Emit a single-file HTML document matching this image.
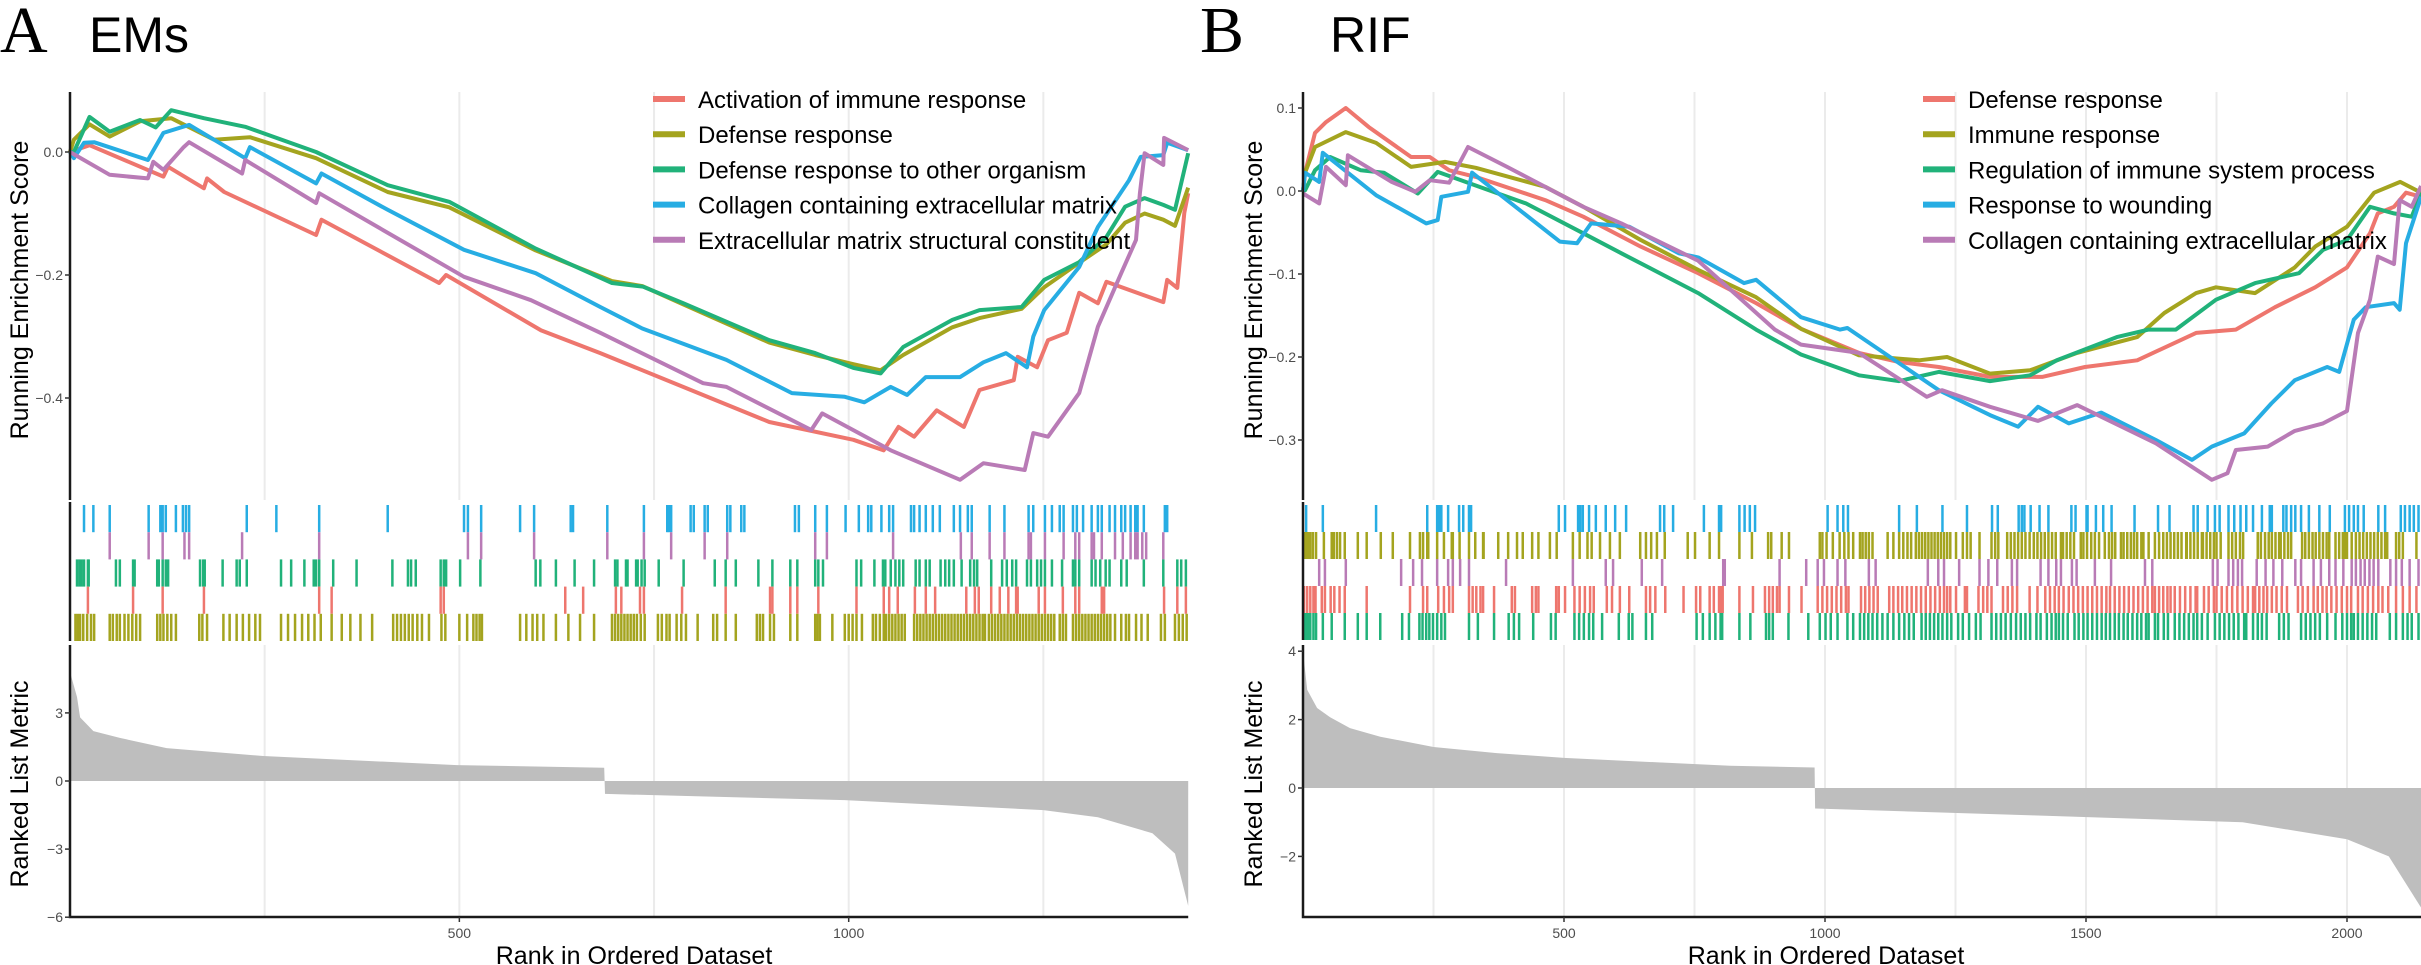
<!DOCTYPE html>
<html><head><meta charset="utf-8">
<style>
html,body{margin:0;padding:0;background:#fff;}
svg{display:block;font-family:"Liberation Sans",Arial,sans-serif;}
</style></head>
<body>
<svg id="fig" xmlns="http://www.w3.org/2000/svg" width="2421" height="965" viewBox="0 0 2421 965">
<text x="0" y="52" font-family="Liberation Serif,serif" font-size="66" fill="#000">A</text>
<text x="89" y="52" font-size="50" fill="#000">EMs</text>
<text x="1200" y="52" font-family="Liberation Serif,serif" font-size="66" fill="#000">B</text>
<text x="1330" y="52" font-size="50" fill="#000">RIF</text>
</svg>
<script>
// ---------- Panel A data (EMs) ----------
const A_names = ["Activation of immune response","Defense response","Defense response to other organism","Collagen containing extracellular matrix","Extracellular matrix structural constituent"];
const A_colors = ["#EE766E","#A4A41F","#21B27A","#27ADE3","#B97BB6"];
const A_s0_rank = [0,25,120,126,172,176,198,316,323,474,483,605,681,898,1006,1045,1064,1084,1113,1148,1168,1212,1217,1242,1256,1280,1296,1320,1331,1404,1409,1422,1425,1431,1436];
const A_s0_es = [0,0.011,-0.04,-0.024,-0.059,-0.043,-0.065,-0.135,-0.11,-0.213,-0.2,-0.29,-0.327,-0.439,-0.468,-0.485,-0.447,-0.463,-0.42,-0.447,-0.387,-0.371,-0.333,-0.35,-0.306,-0.294,-0.229,-0.246,-0.211,-0.244,-0.208,-0.221,-0.18,-0.099,-0.067];
const A_s1_rank = [0,5,25,51,90,130,185,231,316,408,487,598,696,735,788,898,957,1006,1041,1070,1133,1168,1222,1251,1296,1331,1355,1380,1404,1419,1436];
const A_s1_es = [0,0.02,0.045,0.025,0.05,0.055,0.02,0.024,-0.01,-0.065,-0.09,-0.16,-0.21,-0.218,-0.248,-0.31,-0.33,-0.345,-0.355,-0.33,-0.285,-0.27,-0.255,-0.22,-0.18,-0.15,-0.115,-0.1,-0.11,-0.12,-0.058];
const A_s2_rank = [0,5,25,51,90,110,130,172,225,316,408,487,598,696,736,788,898,957,1006,1041,1070,1133,1168,1222,1251,1296,1331,1355,1380,1404,1419,1436];
const A_s2_es = [0,0,0.057,0.033,0.052,0.04,0.068,0.055,0.041,0,-0.054,-0.081,-0.157,-0.213,-0.219,-0.246,-0.306,-0.327,-0.351,-0.36,-0.317,-0.273,-0.257,-0.252,-0.208,-0.179,-0.138,-0.089,-0.075,-0.086,-0.094,-0.002];
const A_s3_rank = [0,5,18,31,100,120,153,225,231,316,323,408,506,598,681,735,843,927,995,1020,1054,1075,1099,1143,1173,1202,1229,1237,1251,1296,1320,1360,1375,1404,1409,1436];
const A_s3_es = [0,-0.01,0.015,0.016,-0.013,0.031,0.044,-0.01,0.008,-0.051,-0.035,-0.094,-0.159,-0.197,-0.252,-0.287,-0.338,-0.392,-0.398,-0.407,-0.382,-0.395,-0.366,-0.366,-0.342,-0.327,-0.35,-0.3,-0.257,-0.187,-0.122,-0.046,-0.008,-0.005,0.015,0.003];
const A_s4_rank = [0,51,100,107,120,146,153,221,225,316,320,506,592,681,813,843,952,966,1054,1143,1173,1226,1237,1256,1296,1320,1350,1369,1374,1380,1404,1405,1436];
const A_s4_es = [0,-0.037,-0.043,-0.016,-0.029,0.008,0.016,-0.035,-0.013,-0.083,-0.067,-0.203,-0.241,-0.294,-0.376,-0.382,-0.452,-0.425,-0.485,-0.533,-0.506,-0.517,-0.457,-0.463,-0.392,-0.284,-0.197,-0.143,-0.067,-0.002,-0.021,0.023,0.003];
// hit rows (top to bottom): blue, purple, green, red, olive
const A_hits_blue = [18,30,51,101,116,119,123,136,145,149,153,227,265,320,408,506,511,528,578,596,643,646,690,737,767,769,772,797,801,815,819,844,848,862,866,931,936,957,972,996,1013,1025,1029,1042,1052,1057,1080,1084,1091,1099,1108,1117,1135,1143,1153,1158,1181,1200,1231,1237,1252,1261,1271,1276,1288,1293,1301,1312,1320,1325,1335,1342,1350,1355,1362,1368,1371,1379,1406,1409];
const A_hits_purple = [51,101,119,147,153,221,320,511,528,596,690,737,772,815,844,957,972,1057,1144,1158,1181,1200,1231,1234,1252,1276,1291,1296,1312,1315,1325,1342,1352,1362,1368,1371,1377,1382,1404];
const A_hits_green = [9,12,15,18,23,24,59,64,81,83,112,114,119,123,126,167,171,173,196,214,218,227,271,284,301,313,316,320,338,368,414,434,438,444,476,480,483,501,527,598,604,624,648,673,700,703,714,716,727,729,734,738,756,788,828,842,855,884,902,925,934,957,961,967,1010,1016,1033,1044,1047,1054,1060,1065,1070,1086,1091,1099,1104,1118,1124,1129,1135,1145,1156,1161,1165,1183,1197,1203,1210,1215,1229,1234,1242,1247,1252,1261,1274,1288,1291,1296,1312,1317,1323,1330,1335,1350,1357,1379,1404,1422,1427,1433];
const A_hits_red = [23,81,119,172,320,336,476,480,636,659,701,708,732,737,786,842,899,902,925,934,961,1010,1045,1052,1063,1085,1099,1111,1151,1162,1167,1183,1194,1205,1215,1217,1244,1252,1275,1291,1296,1325,1328,1405,1422,1433];
const A_hits_olive = [7,10,13,17,22,27,31,51,55,60,64,70,75,80,85,90,112,116,120,125,130,136,166,170,176,197,205,214,222,230,238,244,271,280,289,298,306,314,322,336,349,360,373,388,415,420,425,430,435,440,446,452,461,477,482,500,510,518,522,526,529,578,586,594,600,608,624,640,655,673,696,700,704,708,712,716,720,724,728,733,738,755,760,766,770,779,785,791,806,826,831,842,855,882,886,890,899,904,925,934,957,960,963,979,995,1000,1005,1010,1017,1031,1035,1040,1045,1048,1052,1056,1060,1064,1068,1072,1084,1088,1092,1096,1100,1104,1108,1112,1116,1120,1124,1128,1132,1136,1140,1144,1148,1152,1156,1160,1164,1168,1172,1175,1180,1184,1188,1192,1196,1200,1204,1208,1212,1216,1220,1224,1228,1232,1236,1240,1244,1248,1252,1256,1260,1264,1271,1275,1279,1288,1292,1296,1300,1304,1308,1312,1316,1320,1324,1328,1332,1336,1342,1350,1356,1360,1369,1376,1384,1401,1406,1419,1424,1429,1434];
const A_metric_rank = [0,9,13,30,64,124,248,497,686,687,995,1250,1320,1390,1419,1436];
const A_metric_val = [4.8,3.7,2.8,2.2,1.9,1.45,1.1,0.7,0.58,-0.57,-0.84,-1.28,-1.6,-2.3,-3.2,-5.5];
const A_es_ticks = [0,-0.2,-0.4];
const A_es_labels = ["0.0","-0.2","-0.4"];
const A_metric_ticks = [3,0,-3,-6];
const A_x_ticks = [500,1000];

// ---------- Panel B data (RIF) ----------
const B_names = ["Defense response","Immune response","Regulation of immune system process","Response to wounding","Collagen containing extracellular matrix"];
const B_colors = ["#EE766E","#A4A41F","#21B27A","#27ADE3","#B97BB6"];
const B_s0_rank = [0,4,23,44,82,126,207,243,280,331,464,537,647,757,868,954,1065,1142,1218,1316,1416,1498,1598,1711,1787,1862,1939,2000,2044,2059,2090,2113,2142];
const B_s0_es = [0,0.022,0.07,0.083,0.1,0.077,0.041,0.041,0.025,0.017,-0.011,-0.031,-0.067,-0.099,-0.135,-0.166,-0.195,-0.206,-0.212,-0.224,-0.224,-0.212,-0.204,-0.171,-0.167,-0.14,-0.116,-0.092,-0.051,-0.027,-0.019,-0.002,-0.007];
const B_s1_rank = [0,4,23,82,140,207,272,331,464,537,647,757,868,954,1065,1180,1234,1316,1393,1483,1598,1650,1711,1749,1824,1900,1939,2000,2052,2102,2142];
const B_s1_es = [0,0.022,0.053,0.071,0.058,0.029,0.035,0.028,0.005,-0.019,-0.059,-0.095,-0.128,-0.166,-0.198,-0.204,-0.2,-0.22,-0.216,-0.195,-0.176,-0.147,-0.123,-0.116,-0.123,-0.092,-0.067,-0.043,-0.002,0.011,-0.002];
const B_s2_rank = [0,4,23,52,111,155,220,258,316,427,537,610,757,868,954,1065,1142,1218,1316,1393,1444,1559,1620,1672,1749,1824,1908,1954,2000,2044,2090,2124,2142];
const B_s2_es = [0,0.001,0.025,0.041,0.025,0.022,-0.003,0.023,0.01,-0.015,-0.051,-0.075,-0.123,-0.167,-0.197,-0.222,-0.229,-0.218,-0.229,-0.222,-0.204,-0.176,-0.167,-0.167,-0.131,-0.111,-0.099,-0.071,-0.059,-0.019,-0.027,-0.031,-0.002];
const B_s3_rank = [0,4,31,38,140,236,258,265,316,324,492,525,552,625,720,757,845,868,954,1029,1043,1218,1316,1370,1408,1467,1529,1634,1703,1741,1803,1855,1900,1962,1985,2013,2036,2090,2101,2113,2142];
const B_s3_es = [0,0.022,0.011,0.046,-0.005,-0.039,-0.035,-0.007,-0.001,0.022,-0.061,-0.063,-0.039,-0.043,-0.075,-0.08,-0.111,-0.107,-0.152,-0.167,-0.165,-0.24,-0.27,-0.284,-0.26,-0.28,-0.267,-0.3,-0.324,-0.308,-0.292,-0.256,-0.228,-0.212,-0.218,-0.155,-0.14,-0.135,-0.143,-0.063,-0.007];
const B_s4_rank = [0,31,44,82,86,170,215,243,280,316,391,537,610,757,904,954,1065,1195,1224,1316,1408,1483,1634,1741,1771,1787,1848,1900,1954,2000,2021,2044,2059,2090,2101,2124,2142];
const B_s4_es = [-0.003,-0.015,0.029,0.007,0.043,0.011,-0.001,0.013,0.01,0.053,0.029,-0.019,-0.039,-0.084,-0.167,-0.185,-0.195,-0.248,-0.24,-0.26,-0.277,-0.258,-0.304,-0.348,-0.34,-0.312,-0.308,-0.289,-0.28,-0.265,-0.171,-0.131,-0.079,-0.088,-0.011,-0.019,0.006];
// hit rows (top to bottom): blue, olive, purple, red, green
const B_hits_blue = [6,38,140,238,257,261,265,278,299,307,318,322,490,502,527,531,536,548,561,580,598,619,684,692,709,768,797,801,836,846,856,866,1005,1024,1035,1044,1142,1176,1225,1272,1320,1331,1371,1377,1382,1394,1411,1428,1472,1480,1501,1503,1519,1533,1549,1593,1638,1660,1706,1714,1733,1747,1756,1773,1784,1796,1807,1820,1837,1852,1856,1878,1884,1893,1901,1912,1927,1947,1967,1996,2004,2013,2021,2032,2060,2073,2103,2111,2120,2128,2137];
const B_hits_olive = [2,6,10,14,19,25,40,55,59,65,71,80,105,122,149,172,205,224,230,238,240,257,270,285,287,300,318,330,345,346,374,393,410,421,439,451,473,486,517,530,545,553,569,588,607,646,657,667,678,693,737,751,779,797,836,860,891,897,917,931,990,995,1003,1015,1028,1037,1045,1054,1067,1072,1078,1084,1091,1120,1131,1142,1150,1158,1165,1174,1180,1186,1192,1198,1204,1210,1216,1222,1228,1234,1240,1251,1264,1272,1279,1296,1319,1326,1332,1349,1356,1363,1370,1377,1384,1392,1400,1407,1414,1421,1428,1435,1442,1452,1456,1463,1470,1477,1490,1495,1502,1510,1517,1525,1536,1544,1550,1556,1567,1572,1579,1586,1592,1598,1606,1610,1620,1632,1640,1648,1655,1662,1669,1676,1683,1692,1693,1700,1707,1714,1722,1724,1731,1738,1745,1750,1758,1773,1780,1787,1795,1801,1829,1835,1843,1850,1856,1863,1870,1873,1880,1887,1893,1914,1920,1927,1934,1940,1947,1954,1961,1966,1978,1985,1992,1996,2000,2009,2017,2024,2031,2038,2045,2052,2059,2066,2073,2077,2094,2100,2107,2133];
const B_hits_purple = [31,42,82,188,211,228,257,278,287,301,318,389,517,580,594,649,688,805,808,913,964,986,998,1024,1039,1084,1097,1197,1217,1228,1257,1296,1313,1330,1358,1368,1413,1428,1443,1452,1473,1482,1517,1548,1613,1627,1743,1752,1773,1782,1791,1799,1827,1844,1859,1876,1901,1912,1936,1950,1966,1978,1993,2009,2017,2026,2034,2043,2051,2060,2083,2094,2105,2120,2137];
const B_hits_red = [2,8,14,20,24,36,42,53,60,70,80,122,205,230,238,259,270,280,287,318,325,332,340,345,366,400,406,439,446,451,485,490,502,520,530,540,550,557,582,592,607,625,657,665,675,694,729,753,761,779,787,797,800,804,836,862,885,893,900,908,913,931,955,986,995,1004,1013,1022,1031,1040,1045,1069,1077,1085,1093,1101,1123,1131,1140,1148,1157,1166,1175,1184,1193,1202,1211,1220,1228,1234,1240,1251,1268,1272,1294,1303,1311,1319,1341,1350,1359,1368,1392,1407,1422,1431,1440,1448,1457,1467,1476,1485,1494,1503,1512,1521,1530,1539,1546,1555,1564,1573,1582,1591,1600,1609,1618,1627,1632,1640,1648,1656,1662,1670,1680,1690,1700,1710,1713,1726,1735,1745,1750,1760,1770,1780,1790,1800,1810,1820,1824,1832,1840,1847,1856,1865,1875,1885,1906,1915,1925,1936,1944,1953,1961,1970,1980,1990,2000,2008,2021,2030,2040,2050,2060,2068,2079,2094,2107,2120,2133];
const B_hits_green = [2,6,10,14,20,25,38,55,80,105,122,148,190,203,223,229,236,242,249,257,265,272,318,335,366,394,404,414,441,475,484,520,529,538,548,556,573,605,624,631,657,669,754,766,779,790,800,803,836,857,887,893,900,930,968,990,1001,1011,1024,1043,1054,1067,1075,1083,1091,1100,1110,1120,1131,1142,1152,1161,1170,1185,1193,1201,1209,1217,1225,1234,1242,1255,1264,1276,1289,1298,1319,1328,1337,1346,1356,1366,1375,1384,1393,1405,1413,1425,1434,1442,1448,1456,1465,1478,1486,1495,1503,1512,1521,1530,1538,1546,1555,1563,1572,1580,1589,1598,1606,1615,1620,1632,1638,1649,1657,1670,1679,1688,1697,1706,1713,1722,1733,1747,1756,1765,1774,1783,1792,1803,1807,1820,1829,1837,1846,1870,1879,1888,1912,1921,1930,1939,1948,1962,1978,1991,2000,2008,2013,2021,2030,2039,2048,2056,2082,2094,2107,2116,2124,2137];
const B_metric_rank = [0,8,27,52,90,148,250,371,500,818,980,981,1400,1800,2000,2080,2142];
const B_metric_val = [4.0,2.87,2.34,2.07,1.75,1.5,1.2,1.02,0.88,0.65,0.6,-0.6,-0.8,-1.0,-1.5,-2.0,-3.5];
const B_es_ticks = [0.1,0,-0.1,-0.2,-0.3];
const B_es_labels = ["0.1","0.0","-0.1","-0.2","-0.3"];
const B_metric_ticks = [4,2,0,-2];
const B_x_ticks = [500,1000,1500,2000];

const NS = "http://www.w3.org/2000/svg";
const svg = document.getElementById("fig");
function mk(tag, attrs, parent){
  const e = document.createElementNS(NS, tag);
  for (const k in attrs) e.setAttribute(k, attrs[k]);
  (parent||svg).appendChild(e);
  return e;
}

function drawPanel(p){
  const g = mk("g", {});
  
  
  const xs = r => p.x0 + r * p.pxr;
  const ys = s => p.esZero - s * p.esScale;
  const ym = v => p.mZero - v * p.mScale;
  const x1 = xs(p.maxRank);
  // gridlines
  for (let r = 250; r < p.maxRank; r += 250){
    const gl = mk("line", {x1:xs(r), x2:xs(r), y1:p.esTop, y2:p.esBot, stroke:"#ebebeb", "stroke-width":2}, g);
    
    
    const gl2 = mk("line", {x1:xs(r), x2:xs(r), y1:p.mTop, y2:p.mBot, stroke:"#ebebeb", "stroke-width":2}, g);
    
    
  }
  // metric area
  let d = "M" + xs(p.mRank[0]) + "," + ym(0);
  for (let i = 0; i < p.mRank.length; i++) d += " L" + xs(p.mRank[i]).toFixed(1) + "," + ym(p.mVal[i]).toFixed(1);
  d += " L" + xs(p.mRank[p.mRank.length-1]) + "," + ym(0) + " Z";
  const area = mk("path", {d:d, fill:"#bebebe", stroke:"none"}, g);
  
  
  // hit rows
  for (let i = 0; i < p.hits.length; i++){
    const top = p.hitTop + i * p.hitH;
    for (const r of p.hits[i]){
      const t = mk("line", {x1:xs(r), x2:xs(r), y1:top, y2:top + p.hitH, stroke:p.hitColors[i], "stroke-width":2.5}, g);
      
      
    }
  }
  // ES curves
  for (let i = 0; i < p.series.length; i++){
    const [rk, es] = p.series[i];
    let pts = "";
    for (let j = 0; j < rk.length; j++) pts += xs(rk[j]).toFixed(1) + "," + ys(es[j]).toFixed(1) + " ";
    const pl = mk("polyline", {points:pts, fill:"none", stroke:p.colors[i], "stroke-width":4, "stroke-linejoin":"round"}, g);
    
    
  }
  // axes
  const ax1 = mk("line", {x1:p.x0, x2:p.x0, y1:p.esTop, y2:p.esBot, stroke:"#1a1a1a", "stroke-width":2.5}, g);
  
  
  const ax2 = mk("line", {x1:p.x0, x2:p.x0, y1:p.hitTop - 3, y2:p.hitTop + 5 * p.hitH, stroke:"#1a1a1a", "stroke-width":2.5}, g);
  
  
  const ax3 = mk("path", {d:"M" + p.x0 + "," + p.mTop + " L" + p.x0 + "," + p.mBot + " L" + x1 + "," + p.mBot, fill:"none", stroke:"#1a1a1a", "stroke-width":2.5}, g);
  
  
  // ES ticks
  for (let i = 0; i < p.esTicks.length; i++){
    const y = ys(p.esTicks[i]);
    const tk = mk("line", {x1:p.x0 - 5, x2:p.x0, y1:y, y2:y, stroke:"#333", "stroke-width":1.5}, g);
    
    
    const tl = mk("text", {x:p.x0 - 7, y:y + 5, "text-anchor":"end", "font-size":14, fill:"#4d4d4d"}, g);
    tl.textContent = p.esLabels[i].replace("-", "\u2212");
    
    
  }
  for (const v of p.mTicks){
    const y = ym(v);
    const tk = mk("line", {x1:p.x0 - 5, x2:p.x0, y1:y, y2:y, stroke:"#333", "stroke-width":1.5}, g);
    
    
    const tl = mk("text", {x:p.x0 - 7, y:y + 5, "text-anchor":"end", "font-size":14, fill:"#4d4d4d"}, g);
    tl.textContent = String(v).replace("-", "\u2212");
    
    
  }
  for (const r of p.xTicks){
    const tk = mk("line", {x1:xs(r), x2:xs(r), y1:p.mBot, y2:p.mBot + 5, stroke:"#333", "stroke-width":1.5}, g);
    
    
    const tl = mk("text", {x:xs(r), y:p.mBot + 21, "text-anchor":"middle", "font-size":14, fill:"#4d4d4d"}, g);
    tl.textContent = String(r);
    
    
  }
  // axis titles
  const t1 = mk("text", {x:0, y:0, "text-anchor":"middle", "font-size":25, fill:"#000", transform:"translate(" + p.yTitleX + "," + p.esTitleY + ") rotate(-90)"}, g);
  t1.textContent = "Running Enrichment Score";
  
  
  const t2 = mk("text", {x:0, y:0, "text-anchor":"middle", "font-size":25, fill:"#000", transform:"translate(" + p.yTitleX + ",784) rotate(-90)"}, g);
  t2.textContent = "Ranked List Metric";
  
  
  const t3 = mk("text", {x:p.xTitleX, y:964, "text-anchor":"middle", "font-size":25, fill:"#000"}, g);
  t3.textContent = "Rank in Ordered Dataset";
  
  
  // legend
  for (let i = 0; i < p.names.length; i++){
    const y = 99 + i * 35.2;
    const k = mk("line", {x1:p.legX, x2:p.legX + 32, y1:y, y2:y, stroke:p.colors[i], "stroke-width":6}, g);
    
    
    const lt = mk("text", {x:p.legX + 45, y:y + 9, "font-size":24, fill:"#000"}, g);
    lt.textContent = p.names[i];
    
    
  }
}

drawPanel({
  id:"emS", x0:70, pxr:0.7787, maxRank:1436,
  esTop:92, esBot:500, esZero:152, esScale:615,
  mTop:645, mBot:917, mZero:781, mScale:22.7,
  hitTop:505, hitH:27.2,
  series:[[A_s0_rank,A_s0_es],[A_s1_rank,A_s1_es],[A_s2_rank,A_s2_es],[A_s3_rank,A_s3_es],[A_s4_rank,A_s4_es]],
  colors:A_colors, names:A_names,
  hits:[A_hits_blue,A_hits_purple,A_hits_green,A_hits_red,A_hits_olive],
  hitColors:["#27ADE3","#B97BB6","#21B27A","#EE766E","#A4A41F"],
  mRank:A_metric_rank, mVal:A_metric_val,
  esTicks:A_es_ticks, esLabels:A_es_labels, mTicks:A_metric_ticks, xTicks:A_x_ticks,
  yTitleX:28, esTitleY:290, xTitleX:634, legX:653
});
drawPanel({
  id:"rif", x0:1303, pxr:0.522, maxRank:2142,
  esTop:92, esBot:500, esZero:191, esScale:830,
  mTop:645, mBot:917, mZero:788, mScale:34.2,
  hitTop:505, hitH:27,
  series:[[B_s0_rank,B_s0_es],[B_s1_rank,B_s1_es],[B_s2_rank,B_s2_es],[B_s3_rank,B_s3_es],[B_s4_rank,B_s4_es]],
  colors:B_colors, names:B_names,
  hits:[B_hits_blue,B_hits_olive,B_hits_purple,B_hits_red,B_hits_green],
  hitColors:["#27ADE3","#A4A41F","#B97BB6","#EE766E","#21B27A"],
  mRank:B_metric_rank, mVal:B_metric_val,
  esTicks:B_es_ticks, esLabels:B_es_labels, mTicks:B_metric_ticks, xTicks:B_x_ticks,
  yTitleX:1262, esTitleY:290, xTitleX:1826, legX:1923
});
</script>
</body></html>
